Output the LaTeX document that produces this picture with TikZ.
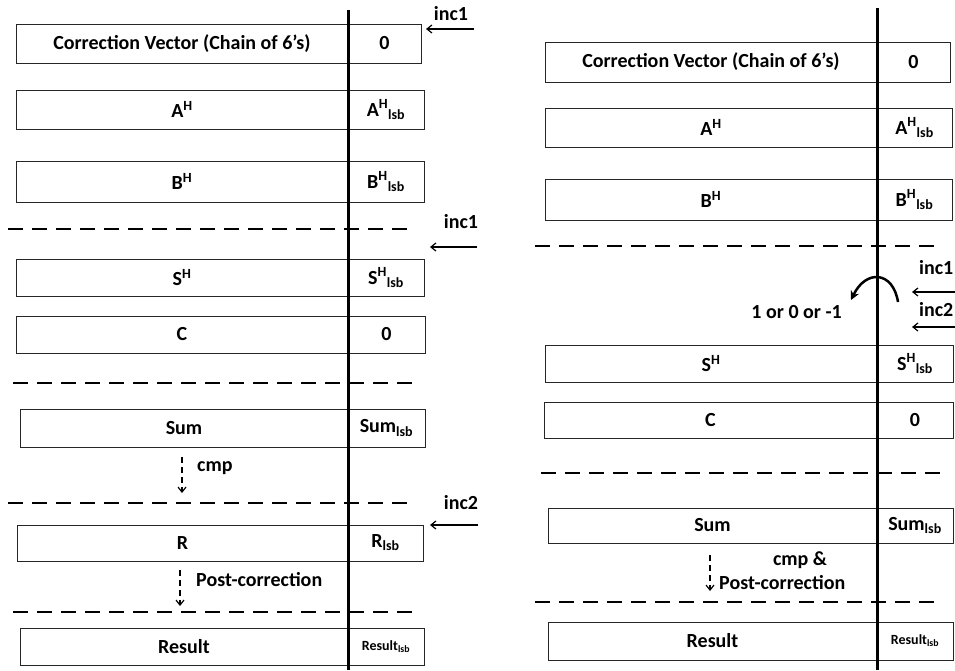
\documentclass[tikz,border=0pt]{standalone}
\usepackage{fontspec}
\setmainfont{Carlito}
\usetikzlibrary{arrows.meta,positioning}
\tikzset{
  reg/.style={draw=black!85,line width=1pt,outer sep=0pt,inner sep=0pt,font=\bfseries\fontsize{20}{22}\selectfont},
  lbl/.style={inner sep=0pt,font=\bfseries\fontsize{20}{22}\selectfont},
  small/.style={font=\bfseries\fontsize{14}{16}\selectfont},
  cut/.style={line width=2pt,dash pattern=on 15pt off 9pt},
  split/.style={line width=3pt},
  arr/.style={-{Straight Barb[length=5pt,width=8pt]},line width=1.2pt},
  cmparr/.style={arr,dash pattern=on 6pt off 4pt},
  turn/.style={-{Stealth[length=9pt,width=9pt]},line width=2.5pt}
}
\begin{document}
\begin{tikzpicture}[x=1pt,y=-1pt]
  \useasboundingbox (0,0) rectangle (955,670);
  % left: two increments
  \node[reg,anchor=north west,minimum width=332pt,minimum height=39pt] (cv) at (16,24) {Correction Vector (Chain of 6’s)};
  \node[reg,right=0pt of cv,minimum width=73pt,minimum height=39pt] (cvl) {0};
  \node[reg,anchor=north west,minimum width=332pt,minimum height=39pt] (ah) at (16,90) {A\textsuperscript{H}};
  \node[reg,right=0pt of ah,minimum width=76pt,minimum height=39pt] (ahl) {A\textsuperscript{H}\textsubscript{lsb}};
  \node[reg,anchor=north west,minimum width=332pt,minimum height=41pt] (bh) at (16,161) {B\textsuperscript{H}};
  \node[reg,right=0pt of bh,minimum width=76pt,minimum height=41pt] (bhl) {B\textsuperscript{H}\textsubscript{lsb}};
  \node[reg,anchor=north west,minimum width=332pt,minimum height=37pt] (sh) at (16,259) {S\textsuperscript{H}};
  \node[reg,right=0pt of sh,minimum width=76pt,minimum height=37pt] (shl) {S\textsuperscript{H}\textsubscript{lsb}};
  \node[reg,anchor=north west,minimum width=332pt,minimum height=37pt] (c) at (16,316) {C};
  \node[reg,right=0pt of c,minimum width=77pt,minimum height=37pt] (cl) {0};
  \node[reg,anchor=north west,minimum width=328pt,minimum height=38pt] (sum) at (20,409) {Sum};
  \node[reg,right=0pt of sum,minimum width=77pt,minimum height=38pt] (suml) {Sum\textsubscript{lsb}};
  \node[reg,anchor=north west,minimum width=331pt,minimum height=36pt] (r) at (17,525) {R};
  \node[reg,right=0pt of r,minimum width=75pt,minimum height=36pt] (rl) {R\textsubscript{lsb}};
  \node[reg,anchor=north west,minimum width=328pt,minimum height=37pt] (res) at (20,628) {Result};
  \node[reg,small,right=0pt of res,minimum width=76pt,minimum height=37pt] (resl) {Result\textsubscript{lsb}};
  \draw[cut] (8,229) -- (412,229);
  \draw[cut] (13,383) -- (418,383);
  \draw[cut] (8,503) -- (412,503);
  \draw[cut] (13,612) -- (418,612);
  \draw[split] (348,10) -- (348,670);
  \node[lbl] (inca) at (451,14) {inc1};
  \coordinate (inca1) at (474,29);
  \coordinate (inca2) at (426,29);
  \draw[arr] (inca1) -- (inca2);
  \node[lbl] (incb) at (461,222) {inc1};
  \coordinate (incb1) at (477,247);
  \coordinate (incb2) at (430,247);
  \draw[arr] (incb1) -- (incb2);
  \node[lbl] (incc) at (461,503) {inc2};
  \coordinate (incc1) at (478,525);
  \coordinate (incc2) at (430,525);
  \draw[arr] (incc1) -- (incc2);
  \node[lbl,anchor=west] (cmp) at (197,468) {cmp};
  \coordinate (cmp1) at (182,457);
  \coordinate (cmp2) at (182,493);
  \draw[cmparr] (cmp1) -- (cmp2);
  \node[lbl,anchor=west] (post) at (196,580) {Post-correction};
  \coordinate (post1) at (180,570);
  \coordinate (post2) at (180,606);
  \draw[cmparr] (post1) -- (post2);
  % right: one combined increment
  \node[reg,anchor=north west,minimum width=332pt,minimum height=40pt] (cvr) at (545,42) {Correction Vector (Chain of 6’s)};
  \node[reg,right=0pt of cvr,minimum width=73pt,minimum height=40pt] (cvrl) {0};
  \node[reg,anchor=north west,minimum width=332pt,minimum height=39pt] (ahr) at (545,108) {A\textsuperscript{H}};
  \node[reg,right=0pt of ahr,minimum width=75pt,minimum height=39pt] (ahrl) {A\textsuperscript{H}\textsubscript{lsb}};
  \node[reg,anchor=north west,minimum width=332pt,minimum height=41pt] (bhr) at (545,179) {B\textsuperscript{H}};
  \node[reg,right=0pt of bhr,minimum width=75pt,minimum height=41pt] (bhrl) {B\textsuperscript{H}\textsubscript{lsb}};
  \node[reg,anchor=north west,minimum width=332pt,minimum height=37pt] (shr) at (545,345) {S\textsuperscript{H}};
  \node[reg,right=0pt of shr,minimum width=76pt,minimum height=37pt] (shrl) {S\textsuperscript{H}\textsubscript{lsb}};
  \node[reg,anchor=north west,minimum width=333pt,minimum height=36pt] (cr) at (544,402) {C};
  \node[reg,right=0pt of cr,minimum width=76pt,minimum height=36pt] (crl) {0};
  \node[reg,anchor=north west,minimum width=329pt,minimum height=35pt] (sumr) at (548,508) {Sum};
  \node[reg,right=0pt of sumr,minimum width=76pt,minimum height=35pt] (sumrl) {Sum\textsubscript{lsb}};
  \node[reg,anchor=north west,minimum width=329pt,minimum height=38pt] (resr) at (548,622) {Result};
  \node[reg,small,right=0pt of resr,minimum width=76pt,minimum height=38pt] (resrl) {Result\textsubscript{lsb}};
  \draw[cut] (535,246) -- (940,246);
  \draw[cut] (541,473) -- (947,473);
  \draw[cut] (535,602) -- (940,602);
  \draw[split] (877,8) -- (877,670);
  \node[lbl,anchor=west] (incr1) at (919,268) {inc1};
  \coordinate (incr1a) at (956,292);
  \coordinate (incr1b) at (912,292);
  \draw[arr] (incr1a) -- (incr1b);
  \node[lbl,anchor=west] (incr2) at (919,310) {inc2};
  \coordinate (incr2a) at (956,327);
  \coordinate (incr2b) at (912,327);
  \draw[arr] (incr2a) -- (incr2b);
  \coordinate (carry1) at (898,302);
  \coordinate (carry2) at (851,300);
  \draw[turn] (carry1) .. controls (893,271) and (866,269) .. (carry2);
  \node[lbl,anchor=east] (carry) at (842,312) {1 or 0 or -1};
  \node[lbl] (cmpr) at (800,560) {cmp \&};
  \node[lbl,anchor=west] (postr) at (719,583) {Post-correction};
  \coordinate (cmpr1) at (710,555);
  \coordinate (cmpr2) at (710,591);
  \draw[cmparr] (cmpr1) -- (cmpr2);
\end{tikzpicture}
\end{document}
